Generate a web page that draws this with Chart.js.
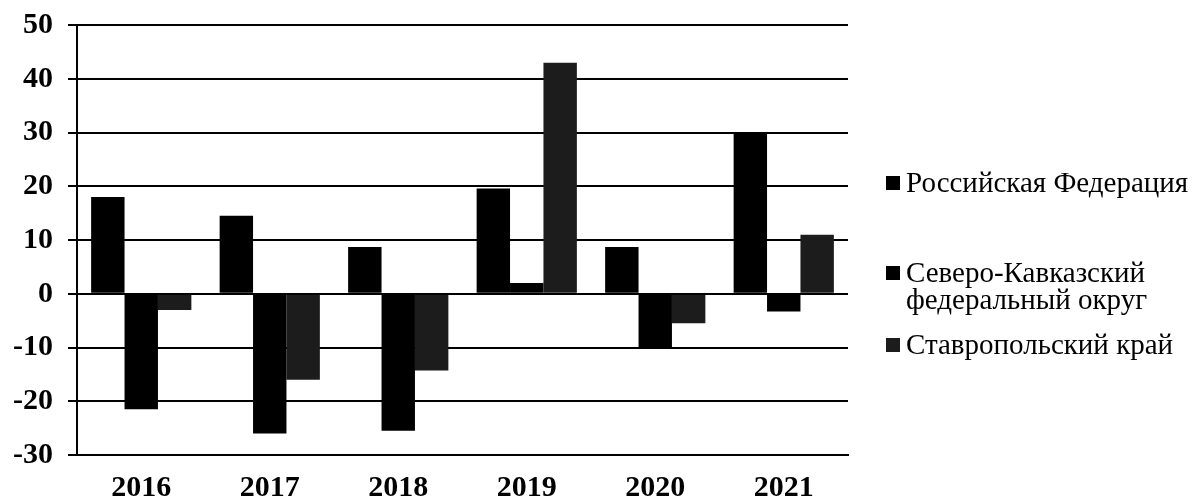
<!DOCTYPE html>
<html>
<head>
<meta charset="utf-8">
<script src="https://cdn.jsdelivr.net/npm/chart.js@4/dist/chart.umd.min.js"></script>
<style>
    html, body { margin: 0; padding: 0; background: #fff; }
    #wrap { position: relative; width: 1194px; height: 500px; }
    #legend {
        position: absolute; left: 886px; top: 0;
        font-family: "Liberation Serif", "DejaVu Serif", serif;
        font-size: 29px; color: #000; line-height: 27px;
    }
    .item { position: absolute; left: 0; white-space: nowrap; }
    .box { display: inline-block; width: 14px; height: 14px; margin-right: 6px; vertical-align: 2px; }
</style>
</head>
<body>
<div id="wrap">
    <canvas id="chart" width="1194" height="500"></canvas>
    <div id="legend"></div>
</div>
<script>
const years = ['2016', '2017', '2018', '2019', '2020', '2021'];
const russia = [18, 14.5, 8.7, 19.6, 8.7, 29.8];
const northCaucasus = [-21.5, -26, -25.5, 2, -10, -3.3];
const stavropol = [-3, -16, -14.3, 43, -5.5, 11];
const seriesNames = ['Российская Федерация', 'Северо-Кавказский\nфедеральный округ', 'Ставропольский край'];
const yTicks = [50, 40, 30, 20, 10, 0, -10, -20, -30];

const COLORS = ['#000000', '#000000', '#1c1c1c'];
const FONT = '"Liberation Serif", "DejaVu Serif", serif';

const datasets = [russia, northCaucasus, stavropol].map((data, i) => ({
    label: seriesNames[i],
    data,
    backgroundColor: COLORS[i],
    borderWidth: 0,
    categoryPercentage: 0.78,
    barPercentage: 1,
}));

new Chart(document.getElementById('chart').getContext('2d'), {
    type: 'bar',
    data: { labels: years, datasets },
    options: {
        responsive: false,
        animation: false,
        layout: { padding: { top: 25, right: 346, left: 0, bottom: 0 } },
        plugins: { legend: { display: false }, tooltip: { enabled: false } },
        scales: {
            x: {
                grid: { display: false },
                border: { display: true, color: '#000', width: 2 },
                ticks: { color: '#000', font: { family: FONT, size: 30, weight: 'bold' }, padding: 7 },
                afterFit: (s) => { s.height = 45; },
            },
            y: {
                min: -30,
                max: 50,
                afterBuildTicks: (s) => { s.ticks = yTicks.map((v) => ({ value: v })); },
                grid: { color: '#000', lineWidth: 2, tickLength: 9 },
                border: { display: true, color: '#000', width: 2 },
                ticks: { color: '#000', font: { family: FONT, size: 30, weight: 'bold' }, padding: 15 },
                afterFit: (s) => {
                    s.width = 77;
                    s.paddingTop = 0;
                    s.paddingBottom = 0;
                },
            },
        },
    },
});

// legend built from the series names
const legendTops = [169, 259, 331];
const legend = document.getElementById('legend');
seriesNames.forEach((name, i) => {
    const item = document.createElement('div');
    item.className = 'item';
    item.style.top = legendTops[i] + 'px';
    const lines = name.split('\n');
    item.innerHTML = '<span class="box" style="background:' + COLORS[i] + '"></span>' + lines[0] +
        (lines[1] ? '<br><span style="padding-left:20px">' + lines[1] + '</span>' : '');
    legend.appendChild(item);
});
</script>
</body>
</html>
